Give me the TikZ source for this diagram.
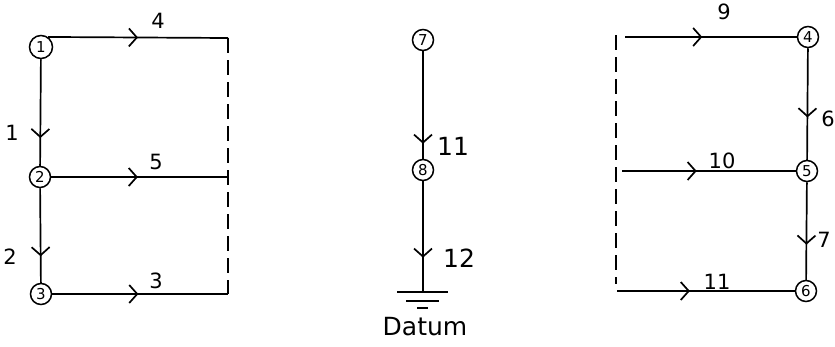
\documentclass[tikz,border=0pt]{standalone}
\usepackage{fontspec}
\setmainfont{DejaVu Sans}
\usetikzlibrary{arrows.meta,decorations.markings}
\begin{document}
\begin{tikzpicture}[x=1pt,y=-1pt,
  wire/.style={line width=1.7pt},
  guide/.style={line width=1.7pt,dash pattern=on 15pt off 7pt},
  flow/.style={wire,postaction={decorate},decoration={markings,
      mark=at position #1 with {\arrow[line width=1.7pt]{Straight Barb[length=8pt,width=18pt]}}}},
  junction/.style={circle,draw,line width=1.5pt,inner sep=0pt,minimum size=21pt,font=\fontsize{15}{15}\selectfont},
  lbl/.style={font=\fontsize{21}{22}\selectfont},
  biglbl/.style={font=\fontsize{25}{26}\selectfont}]
\useasboundingbox (0,0) rectangle (835,346);

% ---- left network: branches 1-5 ----
\node[junction,minimum size=23pt] (n1) at (41,47) {1};
\node[junction] (n2) at (40,177) {2};
\node[junction] (n3) at (41,294) {3};
\coordinate (a4) at (228,38);
\coordinate (a5) at (228,177);
\coordinate (a3) at (228,294);
\draw[flow=0.5] (n1.55) -- (a4);
\draw[flow=0.49] (n2) -- (a5);
\draw[flow=0.49] (n3) -- (a3);
\draw[flow=0.74] (n1) -- (n2);
\draw[flow=0.72] (n2) -- (n3);
\draw[guide] (a4) -- (a3);
\node[lbl] (l4) at (158,21) {4};
\node[lbl] (l5) at (156,162) {5};
\node[lbl] (l3) at (156,281) {3};
\node[lbl] (l1) at (12,133) {1};
\node[lbl] (l2) at (10,257) {2};

% ---- middle chain down to datum ----
\node[junction] (n7) at (423,40) {7};
\node[junction] (n8) at (423,170) {8};
\coordinate (gnd) at (423,292);
\draw[flow=0.86] (n7) -- (n8);
\draw[flow=0.69] (n8) -- (gnd);
\coordinate (g1l) at (397,292);
\coordinate (g1r) at (448,292);
\coordinate (g2l) at (406,301);
\coordinate (g2r) at (439,301);
\coordinate (g3l) at (417,308);
\coordinate (g3r) at (428,308);
\draw[wire] (g1l) -- (g1r);
\draw[wire] (g2l) -- (g2r);
\draw[wire] (g3l) -- (g3r);
\node[font=\fontsize{25}{26}\selectfont] (datum) at (425,327) {Datum};
\node[biglbl] (l11) at (453,146) {11};
\node[biglbl] (l12) at (459,258) {12};

% ---- right network: branches 6-11 ----
\node[junction] (n4) at (808,37) {4};
\node[junction] (n5) at (807,171) {5};
\node[junction] (n6) at (806,291) {6};
\coordinate (b9) at (625,37);
\coordinate (b10) at (622,171);
\coordinate (b11) at (617,291);
\coordinate (d1) at (616,35);
\coordinate (d2) at (616,284);
\draw[flow=0.45] (b9) -- (n4.west);
\draw[flow=0.43] (b10) -- (n5.west);
\draw[flow=0.41] (b11) -- (n6.west);
\draw[flow=0.62] (n4) -- (n5);
\draw[flow=0.64] (n5) -- (n6);
\draw[guide] (d1) -- (d2);
\node[lbl] (l9) at (724,12) {9};
\node[lbl] (l10) at (722,161) {10};
\node[lbl] (l11b) at (717,282) {11};
\node[lbl] (l6) at (828,119) {6};
\node[lbl] (l7) at (824,240) {7};
\end{tikzpicture}
\end{document}
